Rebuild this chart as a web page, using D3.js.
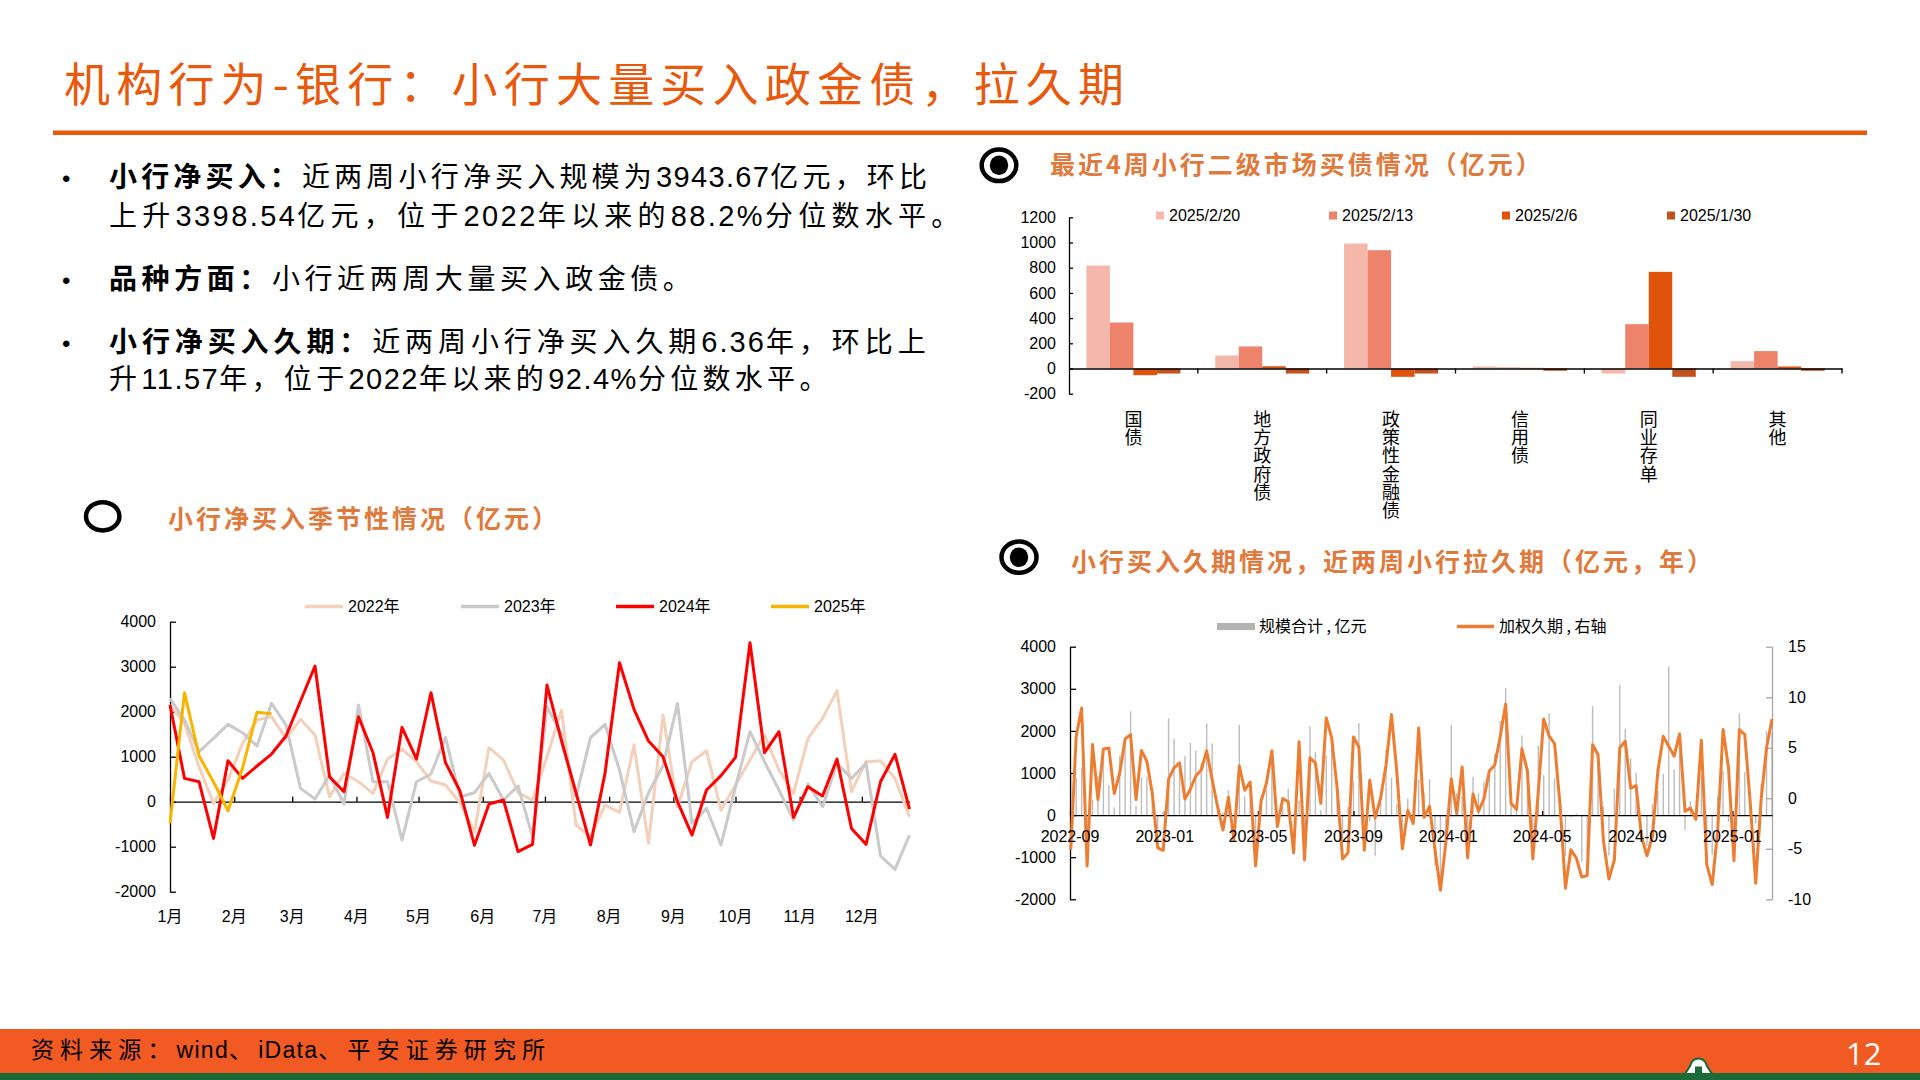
<!DOCTYPE html>
<html lang="zh-CN"><head><meta charset="utf-8"><title>机构行为-银行</title>
<script src="https://cdn.jsdelivr.net/npm/d3@7/dist/d3.min.js"></script>
<style>
html,body{margin:0;padding:0;background:#fff;overflow:hidden;}
svg{display:block;}
</style></head><body>
<svg id="page" width="1920" height="1080" xmlns="http://www.w3.org/2000/svg"></svg>
<script>
// ================= DATA =================
const pageTitle = "机构行为-银行：小行大量买入政金债，拉久期";

// --- seasonal chart (weekly net purchases, 亿元) ---
const monthLabels = ["1月","2月","3月","4月","5月","6月","7月","8月","9月","10月","11月","12月"];
const monthStartDays = [0,31,59,90,120,151,181,212,243,273,304,334];
const seasonNames = ["2022年","2023年","2024年","2025年"];
const seasonTicks = [-2000,-1000,0,1000,2000,3000,4000];
const net2022 = [2150,1741,778,-37,481,1296,1815,1889,1407,1830,1481,111,630,444,185,948,1163,889,459,370,-22,-667,1200,926,200,37,1000,2037,-519,-778,-74,-237,1259,-926,1926,-111,889,1133,-185,370,926,1481,704,185,1407,1852,2467,222,889,911,519,-333];
const net2023 = [2296,1815,1111,1407,1719,1533,1237,2185,1704,296,59,593,-52,2148,444,444,-852,444,615,1430,111,200,630,37,348,-778,2111,1500,111,1422,1719,704,-667,200,800,2185,-481,-148,-963,333,1556,889,259,-407,393,-111,852,519,852,-1207,-1504,-741];
const net2024 = [2148,518,444,-815,911,518,793,1059,1459,2237,3015,556,222,1889,1089,-348,1652,948,2422,867,237,-970,-52,37,-1111,-948,2593,1350,200,-963,630,3089,2052,1348,1000,0,-741,259,578,985,3533,1089,1556,-348,333,126,948,-593,-948,444,1052,-163];
const net2025 = [-481,2422,1022,437,-200,745,1990,1954];

// --- bar chart: last 4 weeks by bond type (亿元) ---
const bondCats = ["国债","地方政府债","政策性金融债","信用债","同业存单","其他"];
const weekLabels = ["2025/2/20","2025/2/13","2025/2/6","2025/1/30"];
const buy0220 = [817,103,992,16,-40,58];
const buy0213 = [365,175,939,8,352,138];
const buy0206 = [-53,18,-66,5,767,16];
const buy0130 = [-40,-40,-40,-18,-66,-18];
const barTicks = [-200,0,200,400,600,800,1000,1200];

// --- duration chart (weekly, from 2022-09-02) ---
const durFirstWeek = "2022-09-02";
const durLastWeek = "2025-02-21";
const durLegend = ["规模合计 , 亿元","加权久期 , 右轴"];
const durScaleSum = [950,889,1133,-185,370,926,1481,704,185,1407,1852,2467,222,889,911,519,-333,87,
 2296,1815,1111,1407,1719,1533,1237,2185,1704,296,59,593,-52,2148,444,444,-852,444,615,1430,111,200,630,37,348,-778,2111,1500,111,1422,1719,704,-667,200,800,2185,-481,-148,-963,333,1556,889,259,-407,393,-111,852,519,852,-1207,-1504,-741,
 2148,518,444,-815,911,518,793,1059,1459,2237,3015,556,222,1889,1089,-348,1652,948,2422,867,237,-970,-52,37,-1111,-948,2593,1350,200,-963,630,3089,2052,1348,1000,0,-741,259,578,985,3533,1089,1556,-348,333,126,948,-593,-948,444,1052,-163,
 -481,2422,1022,437,-200,745,1990,1954];
const durYears = [-5.08,6.14,8.94,-6.7,5.31,-0.13,4.88,4.98,0.46,2.5,5.87,6.3,-0.13,4.72,3.66,0.46,-4.9,-5.15,1.9,3.0,3.5,-0.07,0.9,2.2,2.8,4.7,1.85,-0.8,-3.15,0.1,-4.1,3.2,0.8,1.6,-6.7,-0.3,1.5,4.7,-2.8,-0.03,-0.36,-5.4,5.6,-6.1,
 4.0,3.5,-0.5,7.95,5.97,1.0,-6.0,-5.4,6.07,5.08,-5.15,1.78,-1.95,0.03,3.3,8.28,2.5,-5.0,-1.2,-2.5,6.96,-1.9,-0.8,-5.1,-9.1,-4.4,1.9,-1.5,3.1,-5.9,0.43,-1.3,-0.07,2.7,3.3,6.1,9.3,-0.5,-1.1,4.9,2.7,-6.0,0.6,
 7.85,6.14,5.4,-0.6,-8.9,-5.1,-5.9,-7.8,-7.66,5.3,4.3,-4.26,-8.0,-6.1,5.0,5.64,1.0,1.25,-3.8,-5.7,-3.76,2.67,6.14,5.15,4.16,6.37,-1.29,-0.96,-2.1,5.74,-6.57,-8.55,-3.27,6.8,3.0,-6.17,6.8,6.3,-0.46,-8.4,-0.13,5.0,7.85];
const durTickLabels = ["2022-09","2023-01","2023-05","2023-09","2024-01","2024-05","2024-09","2025-01"];
const durLeftTicks = [-2000,-1000,0,1000,2000,3000,4000];
const durRightTicks = [-10,-5,0,5,10,15];

// ================= DRAW =================
const svg = d3.select("#page");
const CJK = "'Noto Sans CJK SC','Noto Sans',sans-serif";
const LAT = "'Liberation Sans',Arial,'Noto Sans CJK SC',sans-serif";
const ORANGE = "#E8590C";
const SEC = "#E07A3C";
const plain = d => String(d);

// ---- page title ----
svg.append("text").attr("x",64).attr("y",101).attr("font-family",CJK)
  .attr("font-size",46).attr("letter-spacing",6.2).attr("fill",ORANGE).text(pageTitle);
svg.append("rect").attr("x",53).attr("y",130.5).attr("width",1814).attr("height",4.5).attr("fill",ORANGE);

// ---- mixed CJK / Latin text ----
function rich(x, y, segs, o) {
  const t = svg.append("text").attr("x",x).attr("y",y).attr("fill",o.fill || "#000");
  segs.forEach(s => {
    (s.t.match(/[\x00-\x7F]+|[^\x00-\x7F]+/g) || []).forEach(r => {
      const ascii = /^[\x00-\x7F]+$/.test(r);
      t.append("tspan").attr("font-family", ascii ? LAT : CJK)
        .attr("font-weight", s.b ? 700 : 400)
        .attr("font-size", ascii ? o.latSize : o.cjkSize)
        .attr("letter-spacing", ascii ? o.latLs : o.cjkLs).text(r);
    });
  });
  return t;
}
const bodyLines = [
  {y:187, bullet:true, extra:-0.13, segs:[{t:"小行净买入：",b:1},{t:"近两周小行净买入规模为3943.67亿元，环比"}]},
  {y:226, extra:0.93, segs:[{t:"上升3398.54亿元，位于2022年以来的88.2%分位数水平。"}]},
  {y:289, bullet:true, extra:0.28, segs:[{t:"品种方面：",b:1},{t:"小行近两周大量买入政金债。"}]},
  {y:352, bullet:true, extra:0.6, segs:[{t:"小行净买入久期：",b:1},{t:"近两周小行净买入久期6.36年，环比上"}]},
  {y:389, extra:0, segs:[{t:"升11.57年，位于2022年以来的92.4%分位数水平。"}]}
];
bodyLines.forEach(l => {
  if (l.bullet) svg.append("text").attr("x",62).attr("y",l.y).attr("font-family",LAT)
      .attr("font-size",24).text("•");
  rich(109, l.y, l.segs, {cjkSize:28, cjkLs:4.3 + l.extra, latSize:29, latLs:1.5 + l.extra});
});

// ---- section markers & titles ----
function marker(cx, cy, rx, ry, filled) {
  svg.append("ellipse").attr("cx",cx).attr("cy",cy).attr("rx",rx).attr("ry",ry)
    .attr("fill","none").attr("stroke","#000").attr("stroke-width",4.5);
  if (filled) svg.append("ellipse").attr("cx",cx).attr("cy",cy).attr("rx",9.2).attr("ry",9.8).attr("fill","#000");
}
function secTitle(x, y, txt) {
  svg.append("text").attr("x",x).attr("y",y).attr("font-family",CJK).attr("font-weight",700)
    .attr("font-size",25).attr("letter-spacing",3.0).attr("fill",SEC).text(txt);
}
marker(999, 165.3, 17.3, 15.8, true);
secTitle(1050, 173.5, "最近4周小行二级市场买债情况（亿元）");
marker(102.7, 516.3, 16.7, 14.1, false);
secTitle(168, 527.5, "小行净买入季节性情况（亿元）");
marker(1019, 557.2, 17.5, 15.6, true);
secTitle(1071, 571, "小行买入久期情况，近两周小行拉久期（亿元，年）");

function styleAxis(g, color) {
  g.select(".domain").attr("stroke", color || "#000").attr("stroke-width",1.3);
  g.selectAll(".tick line").attr("stroke", color || "#000").attr("stroke-width",1.3);
  g.selectAll(".tick text").attr("font-family",LAT).attr("font-size",16).attr("fill","#000");
}

// ================= SEASONAL CHART =================
{
  const sx = d3.scaleLinear().domain([0, 357]).range([170, 909.5]);
  const sy = d3.scaleLinear().domain([-2000, 4000]).range([891.7, 621.7]);
  const g = svg.append("g");
  g.append("g").attr("transform","translate(170,0)")
    .call(d3.axisLeft(sy).tickValues(seasonTicks).tickFormat(plain).tickSize(-6).tickSizeOuter(0).tickPadding(14))
    .call(a => styleAxis(a));
  g.append("g").attr("transform",`translate(0,${sy(0)})`)
    .call(d3.axisBottom(sx).tickValues(monthStartDays).tickSize(-5).tickSizeOuter(0).tickFormat(""))
    .call(a => styleAxis(a));
  g.selectAll("text.mlab").data(monthLabels).join("text").attr("class","mlab")
    .attr("x",(d,i)=>sx(monthStartDays[i])).attr("y",922).attr("text-anchor","middle")
    .attr("font-family",LAT).attr("font-size",16).text(d=>d);
  const series = [net2022, net2023, net2024, net2025];
  const colors = ["#F3D0BA","#CACACA","#FF0000","#F7B500"];
  const line = d3.line().x((d,i)=>sx(i*7)).y(d=>sy(d));
  series.forEach((s,k) => g.append("path").attr("d", line(s)).attr("fill","none")
    .attr("stroke", colors[k]).attr("stroke-width",3).attr("stroke-linejoin","round"));
  const lx = [305, 461, 616, 771];
  seasonNames.forEach((n,k) => {
    g.append("line").attr("x1",lx[k]).attr("x2",lx[k]+38).attr("y1",606.5).attr("y2",606.5)
      .attr("stroke",colors[k]).attr("stroke-width",3.5);
    g.append("text").attr("x",lx[k]+43).attr("y",612).attr("font-family",LAT).attr("font-size",16).text(n);
  });
}

// ================= BAR CHART =================
{
  const bx = d3.scaleBand().domain(bondCats).range([1069, 1842]).padding(0);
  const bx1 = d3.scaleBand().domain(weekLabels).range([0, bx.bandwidth()]).paddingInner(0).paddingOuter(0.74);
  const by = d3.scaleLinear().domain([-200, 1200]).range([393.7, 217.3]);
  const colors = ["#F4B7AC","#EE836B","#E0530A","#C2521C"];
  const vals = [buy0220, buy0213, buy0206, buy0130];
  const g = svg.append("g");
  vals.forEach((arr,k) => {
    g.selectAll(null).data(arr).join("rect")
      .attr("x",(d,i)=>bx(bondCats[i]) + bx1(weekLabels[k]))
      .attr("width", bx1.bandwidth())
      .attr("y", d => by(Math.max(0,d)))
      .attr("height", d => Math.abs(by(d) - by(0)))
      .attr("fill", colors[k]);
  });
  g.append("g").attr("transform","translate(1069,0)")
    .call(d3.axisLeft(by).tickValues(barTicks).tickFormat(plain).tickSize(-4).tickSizeOuter(0).tickPadding(13))
    .call(a => styleAxis(a));
  g.append("g").attr("transform",`translate(0,${by(0)})`)
    .call(d3.axisBottom(bx).tickValues([]).tickSizeOuter(0))
    .call(a => styleAxis(a));
  const bounds = bondCats.slice(1).map(c => bx(c)).concat([bx.range()[1]]);
  g.selectAll("line.cb").data(bounds).join("line").attr("class","cb")
    .attr("x1",d=>d).attr("x2",d=>d)
    .attr("y1",by(0)).attr("y2",by(0)+5).attr("stroke","#000").attr("stroke-width",1.3);
  g.selectAll("text.cat").data(bondCats).join("text").attr("class","cat")
    .attr("x", c => bx(c) + bx.bandwidth()/2).attr("y", 410)
    .attr("font-family",CJK).attr("font-size",18).attr("letter-spacing",0.3)
    .style("writing-mode","vertical-rl").style("text-orientation","upright")
    .text(c => c);
  const lx = [1156, 1329, 1502, 1667];
  weekLabels.forEach((n,k) => {
    g.append("rect").attr("x",lx[k]).attr("y",211.5).attr("width",8).attr("height",8).attr("fill",colors[k]);
    g.append("text").attr("x",lx[k]+13).attr("y",221).attr("font-family",LAT).attr("font-size",16).text(n);
  });
}

// ================= DURATION CHART =================
{
  const parse = d3.timeParse("%Y-%m-%d");
  const first = parse(durFirstWeek);
  const dates = durScaleSum.map((d,i) => d3.timeDay.offset(first, 7*i));
  const dx = d3.scaleTime().domain([parse("2022-09-01"), parse(durLastWeek)]).range([1070, 1772]);
  const dyL = d3.scaleLinear().domain([-2000, 4000]).range([899.3, 646.7]);
  const dyR = d3.scaleLinear().domain([-10, 15]).range([899.3, 646.7]);
  const g = svg.append("g");
  g.selectAll("rect.sb").data(durScaleSum).join("rect").attr("class","sb")
    .attr("x",(d,i)=>dx(dates[i]) - 0.7).attr("width",1.4)
    .attr("y", d => dyL(Math.max(0,d))).attr("height", d => Math.abs(dyL(d) - dyL(0)))
    .attr("fill","#BDBDBD");
  g.append("g").attr("transform","translate(1070,0)")
    .call(d3.axisLeft(dyL).tickValues(durLeftTicks).tickFormat(plain).tickSize(-6).tickSizeOuter(0).tickPadding(14))
    .call(a => styleAxis(a));
  g.append("g").attr("transform","translate(1772,0)")
    .call(d3.axisRight(dyR).tickValues(durRightTicks).tickFormat(plain).tickSize(-6).tickSizeOuter(0).tickPadding(16))
    .call(a => styleAxis(a, "#A6A6A6"));
  const pm = d3.timeParse("%Y-%m");
  const tickDates = durTickLabels.map(pm);
  g.append("g").attr("transform",`translate(0,${dyL(0)})`)
    .call(d3.axisBottom(dx).tickValues(tickDates).tickSize(-4).tickSizeOuter(0).tickFormat(""))
    .call(a => styleAxis(a));
  const line = d3.line().x((d,i)=>dx(dates[i])).y(d=>dyR(d));
  g.append("path").attr("d", line(durYears)).attr("fill","none").attr("stroke","#ED7D31")
    .attr("stroke-width",3).attr("stroke-linejoin","round");
  g.selectAll("text.dl").data(durTickLabels).join("text").attr("class","dl")
    .attr("x",(d,i)=>dx(tickDates[i])).attr("y",842).attr("text-anchor","middle")
    .attr("font-family",LAT).attr("font-size",16).text(d=>d);
  g.append("rect").attr("x",1217).attr("y",623).attr("width",38).attr("height",7).attr("fill","#B3B3B3");
  g.append("text").attr("x",1259).attr("y",632).attr("font-family",CJK).attr("font-size",16).text(durLegend[0]);
  g.append("line").attr("x1",1457).attr("x2",1494).attr("y1",626.5).attr("y2",626.5)
    .attr("stroke","#ED7D31").attr("stroke-width",3.5);
  g.append("text").attr("x",1499).attr("y",632).attr("font-family",CJK).attr("font-size",16).text(durLegend[1]);
}

// ================= FOOTER =================
svg.append("rect").attr("x",0).attr("y",1029).attr("width",1920).attr("height",44).attr("fill","#F15A22");
svg.append("rect").attr("x",0).attr("y",1073).attr("width",1920).attr("height",7).attr("fill","#1A6B38");
rich(31, 1058, [{t:"资料来源：wind、iData、平安证券研究所"}], {cjkSize:23, cjkLs:6.1, latSize:23, latLs:1.3});
svg.append("text").attr("x",1846).attr("y",1065).attr("font-family","'Open Sans',sans-serif")
  .attr("font-size",31).attr("fill","#fff").text("12");
svg.append("path").attr("d","M1685,1074 L1690,1066 Q1692,1058.5 1698.5,1058.5 Q1705,1058.5 1707,1066 L1712,1074 Z")
  .attr("fill","#fff").attr("stroke","#1A6B38").attr("stroke-width",2);
svg.append("rect").attr("x",1695).attr("y",1066.5).attr("width",7).attr("height",7).attr("fill","#1A6B38");
</script>
</body></html>
